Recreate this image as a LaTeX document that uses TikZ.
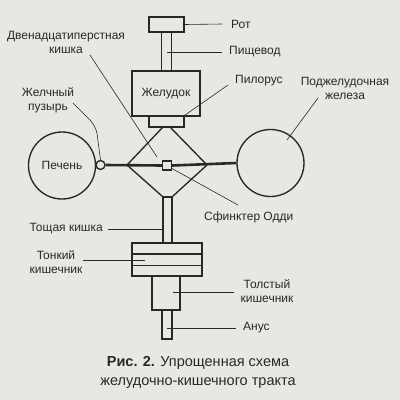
\documentclass[tikz,border=0pt]{standalone}
\usepackage{fontspec}
\setmainfont{Liberation Sans}
\definecolor{paper}{RGB}{233,231,227}
\definecolor{ink}{RGB}{40,40,40}
\begin{document}
\begin{tikzpicture}[x=1pt,y=-1pt,
  organ/.style={draw=ink,line width=1.35pt,fill=paper,inner sep=0pt,minimum width=#1},
  ring/.style={draw=ink,line width=1.35pt,circle,inner sep=0pt,minimum size=#1,fill=paper},
  lead/.style={draw=ink,line width=0.6pt},
  lbl/.style={font=\fontsize{12}{14}\selectfont,text=ink,inner sep=0pt,align=center},
  wall/.style={draw=ink,line width=1.35pt}]
\fill[paper] (0,0) rectangle (400,400);
\useasboundingbox (0,0) rectangle (400,400);
% upper tract
\node[organ=35pt,minimum height=15pt] (rot) at (166.5,24.5) {};
\node[inner sep=0pt,minimum width=9pt,minimum height=39pt] (eso) at (166.5,51.5) {};
\draw[wall] (eso.north west) -- (eso.south west) (eso.north east) -- (eso.south east);
\node[organ=68pt,minimum height=45pt,lbl] (stom) at (166,93.5) {Желудок};
\node[organ=35pt,minimum height=11pt] (pyl) at (166.5,121.5) {};
% diamond
\coordinate (dl) at (127,165);
\coordinate (dr) at (207,165);
\coordinate (dt1) at (163,127);
\coordinate (dt2) at (170,127);
% lower tract
\node[organ=9pt,minimum height=46pt] (jej) at (167.5,220) {};
\node[organ=70pt,minimum height=33pt] (small) at (167,259.5) {};
\draw[wall] (132,254) -- (202,254) (132,265.5) -- (202,265.5);
\node[organ=28pt,minimum height=34pt] (large) at (166,293) {};
\node[organ=10pt,minimum height=29pt] (anus) at (167,324.5) {};
\draw[wall] (dt1) -- (dl) -- (jej.north west) (dt2) -- (dr) -- (jej.north east);
% organs
\node[ring=67pt,lbl] (liver) at (62,165.5) {Печень};
\node[ring=67pt] (panc) at (270.5,163) {};
\node[ring=9pt] (gb) at (100.5,165) {};
\node[draw=ink,line width=1.35pt,fill=paper,inner sep=0pt,minimum size=9pt] (oddi) at (167,165.5) {};
\draw[ink,line width=2.6pt] (gb.east) -- (oddi.west) (oddi.east) -- (panc.west);
% labels
\node[lbl,anchor=west] (lrot) at (231,24) {Рот};
\draw[lead] (rot.east) -- (lrot.west -| 222,0);
\node[lbl,anchor=west] (lesoph) at (229,52) {Пищевод};
\coordinate (eso1) at (167,52);
\draw[lead] (eso1) -- (222,52);
\node[lbl,anchor=west] (lpyl) at (235,81) {Пилорус};
\draw[lead] (228,85) -- (pyl.north east);
\node[lbl] (lpanc) at (345,88.5) {Поджелудочная\\железа};
\draw[lead] (318,98) -- (287,140);
\node[lbl] (lduo) at (66,42) {Двенадцатиперстная\\кишка};
\draw[lead] (90,55) -- (157,157);
\node[lbl] (lgb) at (48,100.5) {Желчный\\пузырь};
\draw[lead,rounded corners=8pt] (73,103) -- (96,126) -- (gb.north);
\node[lbl,anchor=west] (loddi) at (204,217) {Сфинктер Одди};
\draw[lead] (172,168.5) -- (238,205);
\node[lbl,anchor=east] (ljej) at (103,229) {Тощая кишка};
\draw[lead] (108,229) -- (163,229);
\node[lbl] (lsmall) at (56,262) {Тонкий\\кишечник};
\draw[lead] (83,260) -- (145,260);
\node[lbl] (llarge) at (267,291.5) {Толстый\\кишечник};
\draw[lead] (173,292) -- (234,292);
\node[lbl,anchor=west] (lanus) at (243,328) {Анус};
\draw[lead] (167,328) -- (236,328);
% caption
\node[lbl,font=\fontsize{14.5}{19}\selectfont] (cap) at (198,372.5) {\textbf{Рис. 2.} Упрощенная схема\\желудочно-кишечного тракта};
\end{tikzpicture}
\end{document}
